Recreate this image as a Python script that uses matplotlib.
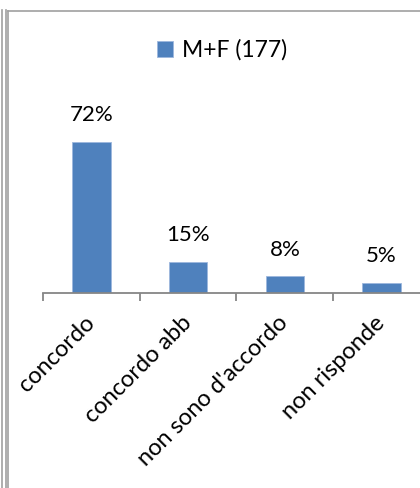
import matplotlib
matplotlib.use("Agg")
import matplotlib.pyplot as plt
from matplotlib.lines import Line2D

# data
categories = ["concordo", "concordo abb", "non sono d'accordo", "non risponde"]
values = [72, 15, 8, 5]
series_name = "M+F (177)"

plt.rcParams['font.family'] = ['Lato', 'DejaVu Sans']

W, H = 420, 488
fig = plt.figure(figsize=(W / 100, H / 100), dpi=100)

# plot area
ax = fig.add_axes([43 / W, 1 - 293 / H, 387 / W, 253 / H])
x = list(range(len(categories)))
bars = ax.bar(x, values, width=0.4, color="#4F81BD", edgecolor="#9DB7DD", linewidth=0.6,
              label=series_name, zorder=2)
ax.set_xlim(-0.5, len(categories) - 0.5)
ax.set_ylim(0, 120.6)

for b, v in zip(bars, values):
    ax.annotate(f"{v}%", (b.get_x() + b.get_width() / 2, v), xytext=(0, 12),
                textcoords="offset points", ha="center", va="bottom", fontsize=16)

# only the category axis is shown
for s in ["top", "right", "left"]:
    ax.spines[s].set_visible(False)
ax.spines["bottom"].set_color("#868686")
ax.spines["bottom"].set_linewidth(1.3)
ax.set_yticks([])
ax.set_xticks([i - 0.5 for i in x] + [len(categories) - 0.5])
ax.set_xticklabels([])
ax.tick_params(axis="x", direction="out", length=6, width=1.3, color="#868686")
ax.set_xticks(x, minor=True)
ax.set_xticklabels(categories, minor=True, rotation=45, ha="right", va="center",
                   rotation_mode="anchor", fontsize=17)
ax.tick_params(axis="x", which="minor", length=0, pad=19)

fig.legend(loc="center", bbox_to_anchor=(222 / W, 1 - 50 / H), frameon=False,
           fontsize=16.5, handlelength=0.7, handleheight=0.7, handletextpad=0.4)

# borders around the chart
gray = "#A0A0A0"
for xp in [1.5, 5.5]:
    fig.add_artist(Line2D([xp / W, xp / W], [0, 1 - 10 / H], color=gray, lw=1.2))
fig.add_artist(Line2D([7.5 / W, 7.5 / W], [0, 1 - 10.5 / H], color=gray, lw=1.2))
fig.add_artist(Line2D([7.5 / W, 1], [1 - 10.5 / H, 1 - 10.5 / H], color=gray, lw=1.2))

fig.savefig("out.png", dpi=100)
